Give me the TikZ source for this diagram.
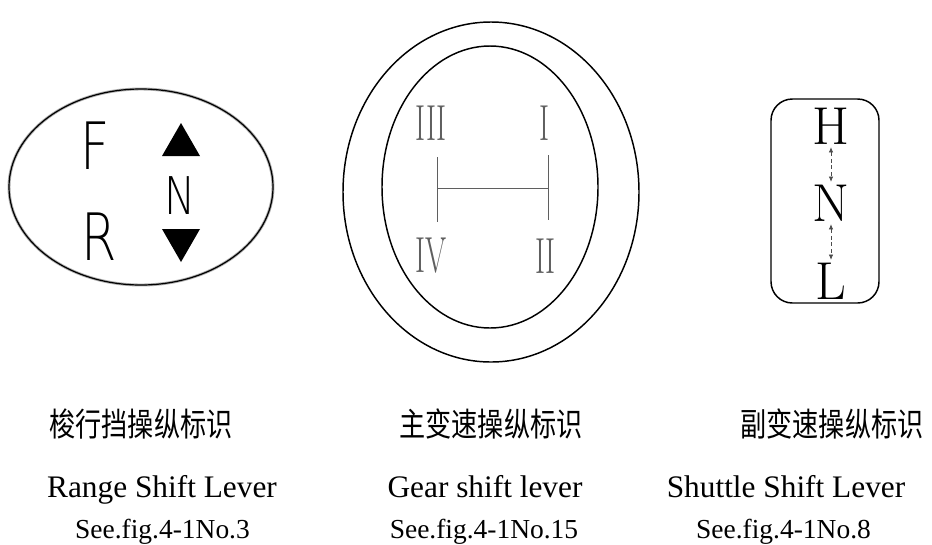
\documentclass[tikz,border=0pt]{standalone}
\usepackage{fontspec}
\setmainfont{Liberation Serif}
\newfontfamily\cjk{Noto Sans CJK SC}
\newfontfamily\lmroman{Latin Modern Roman}
\newfontfamily\thinsans{DejaVuSans-ExtraLight.ttf}
\usepackage{tikz}
\usetikzlibrary{arrows.meta, positioning}
\definecolor{mygray}{RGB}{95,95,95}
\definecolor{myrim}{RGB}{175,175,175}
\tikzset{
  rim/.style={draw=black, line width=1.1pt},
  sansletter/.style={inner sep=0pt, font=\thinsans\fontsize{49}{49}\selectfont},
  romanletter/.style={inner sep=0pt, text=mygray, font=\lmroman\fontsize{38}{38}\selectfont},
  serifletter/.style={inner sep=0pt, font=\lmroman\fontsize{40}{40}\selectfont},
  cjklabel/.style={inner sep=0pt, font=\cjk\fontsize{24.5}{25}\selectfont},
  namelabel/.style={inner sep=0pt, anchor=base, font=\fontsize{23.5}{24}\selectfont},
  reflabel/.style={inner sep=0pt, anchor=base, font=\fontsize{20.6}{21}\selectfont},
  gate/.style={draw=mygray, line width=0.6pt},
  dasharrow/.style={{Latex[length=4pt,width=3.5pt]}-{Latex[length=4pt,width=3.5pt]}, densely dashed, draw=black!70, line width=0.6pt}
}
\begin{document}
\begin{tikzpicture}[x=0.75pt, y=-0.75pt]
  \useasboundingbox (0,0) rectangle (932,544);

  % Range shift plate
  \draw[draw=myrim, line width=2.2pt] (141,187) ellipse (132 and 98);
  \draw[rim, line width=0.9pt] (141,187) ellipse (132 and 98);
  \node[sansletter] (F) at (95,146) {\scalebox{0.78}[1]{F}};
  \node[sansletter] (R) at (99,237) {\scalebox{0.78}[1]{R}};
  \node[sansletter, font=\thinsans\fontsize{39}{39}\selectfont] (Nr) at (180,196) {\scalebox{0.8}[1]{N}};
  \fill (162,156) -- (200,156) -- (181,123) -- cycle;
  \fill (162,229) -- (200,229) -- (181,262) -- cycle;

  % Gear shift plate
  \draw[rim] (491,192) ellipse (148 and 170);
  \draw[rim] (490,187) ellipse (108 and 141);
  \node[romanletter] (g3) at (431,123) {\scalebox{0.6}[1]{III}};
  \node[romanletter] (g1) at (544.5,123) {\scalebox{0.6}[1]{I}};
  \node[romanletter] (g4) at (431,256) {\scalebox{0.6}[1]{IV}};
  \node[romanletter] (g2) at (545.5,256) {\scalebox{0.6}[1]{II}};
  \coordinate (lt) at (437,157);
  \coordinate (lb) at (437,222);
  \coordinate (rt) at (548,155);
  \coordinate (rb) at (548,220);
  \draw[gate] (lt) -- (lb);
  \draw[gate] (rt) -- (rb);
  \draw[gate] (lt |- 0,188) -- (rt |- 0,188);

  % Shuttle shift plate
  \draw[rim, rounded corners=16pt] (771,99) rectangle (879,303);
  \node[serifletter] (H) at (831,126) {H};
  \node[serifletter] (Ns) at (831,203) {N};
  \node[serifletter] (L) at (831,281) {L};
  \draw[dasharrow] ([yshift=-2pt]H.south) -- ([yshift=2pt]Ns.north);
  \draw[dasharrow] ([yshift=-2pt]Ns.south) -- ([yshift=2pt]L.north);

  % Captions
  \node[cjklabel] (c1) at (141,424) {\scalebox{0.8}[1]{梭行挡操纵标识}};
  \node[cjklabel] (c2) at (491,424) {\scalebox{0.8}[1]{主变速操纵标识}};
  \node[cjklabel] (c3) at (832,424) {\scalebox{0.8}[1]{副变速操纵标识}};
  \node[namelabel] (n1) at (162,497) {Range Shift Lever};
  \node[namelabel] (n2) at (485,497) {Gear shift lever};
  \node[namelabel] (n3) at (786,497) {Shuttle Shift Lever};
  \node[reflabel] (r1) at (162.5,538) {See.fig.4-1No.3};
  \node[reflabel] (r2) at (484,538) {See.fig.4-1No.15};
  \node[reflabel] (r3) at (783.5,538) {See.fig.4-1No.8};
\end{tikzpicture}
\end{document}
